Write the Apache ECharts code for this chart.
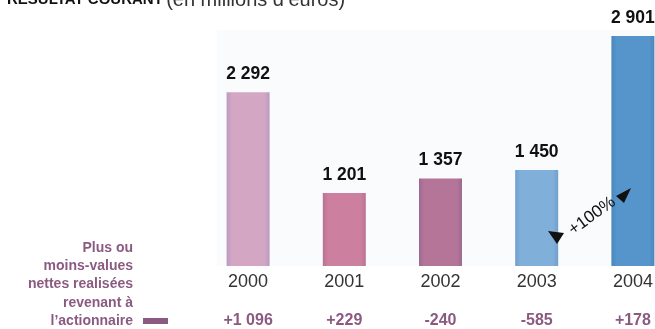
<!DOCTYPE html>
<html><head><meta charset="utf-8">
<script src="https://cdn.jsdelivr.net/npm/echarts@6/dist/echarts.min.js"></script>
<style>html,body{margin:0;padding:0;background:#fff}#c{width:655px;height:329px}</style>
</head><body><div id="c"></div>
<script>
const years = ['2000','2001','2002','2003','2004'];
const resultat = [2292, 1201, 1357, 1450, 2901];
const plusMoins = ['+1 096','+229','-240','-585','+178'];
const barColors = ['#d3a6c4','#cd7f9f','#b47598','#80b0d9','#5595cc'];
const edgeColors = ['#b99ac0','#b87392','#9c6a90','#6f9fcb','#4a86bd'];
const legendLines = ['Plus ou','moins-values','nettes realisées','revenant à','l\u2019actionnaire'];

const chart = echarts.init(document.getElementById('c'), null, {renderer:'canvas'});
const fmt = v => String(v).replace(/\B(?=(\d{3})+(?!\d))/g, ' ');
const purple = '#8b5a80';

chart.setOption({
  animation:false,
  grid:{left:200, width:481, top:36, height:230, outerBoundsMode:'none'},
  xAxis:{type:'category', data:years,
    axisLine:{show:false}, axisTick:{show:false},
    axisLabel:{
      interval:0, margin:6,
      formatter:(v,i)=>'{y|'+v+'}\n{p|'+plusMoins[i]+'}',
      rich:{
        y:{fontFamily:'Liberation Sans, Arial', fontSize:18, color:'#333', lineHeight:20},
        p:{fontFamily:'Liberation Sans, Arial', fontSize:16, fontWeight:'bold', color:purple, lineHeight:58}
      }
    }},
  yAxis:{type:'value', min:410, max:2901, show:false, splitLine:{show:false}},
  graphic:[
    {type:'rect', z:-10, shape:{x:217, y:30, width:438, height:236}, style:{fill:'#fafbfd'}},
    {type:'text', x:7, y:10, z:100, style:{
      text:'{b|RESULTAT COURANT} {n|(en millions d\u2019euros)}',
      verticalAlign:'bottom',
      rich:{
        b:{fontFamily:'Liberation Sans, Arial', fontWeight:'bold', fontSize:15, fill:'#111'},
        n:{fontFamily:'Liberation Sans, Arial', fontSize:20, fill:'#333'}
      }}},
    {type:'text', x:133, y:239, z:100, style:{
      text:legendLines.join('\n'), align:'right', verticalAlign:'top',
      fontFamily:'Liberation Sans, Arial', fontWeight:'bold', fontSize:14, lineHeight:18.2, fill:purple}},
    {type:'rect', z:100, shape:{x:143, y:318, width:25, height:6}, style:{fill:purple}},
    {type:'text', z:100, x:592, y:216, rotation:36*Math.PI/180, style:{
      text:'+100%', align:'center', verticalAlign:'middle',
      fontFamily:'Liberation Sans, Arial', fontSize:17, fill:'#111'}},
    {type:'polygon', z:100, shape:{points:[[548,231],[564,233],[557,244]]}, style:{fill:'#111'}},
    {type:'polygon', z:100, shape:{points:[[631,188],[624,203],[616,196]]}, style:{fill:'#111'}}
  ],
  series:[{
    type:'bar', barWidth:43,
    data:resultat.map((v,i)=>({value:v, itemStyle:{color:new echarts.graphic.LinearGradient(0,0,1,0,[
      {offset:0,color:edgeColors[i]},{offset:0.12,color:barColors[i]},{offset:0.88,color:barColors[i]},{offset:1,color:edgeColors[i]}])}})),
    label:{show:true, position:'top', distance:9, formatter:p=>fmt(p.value),
      fontFamily:'Liberation Sans, Arial', fontWeight:'bold', fontSize:17.5, color:'#111'}
  }]
});
</script></body></html>
